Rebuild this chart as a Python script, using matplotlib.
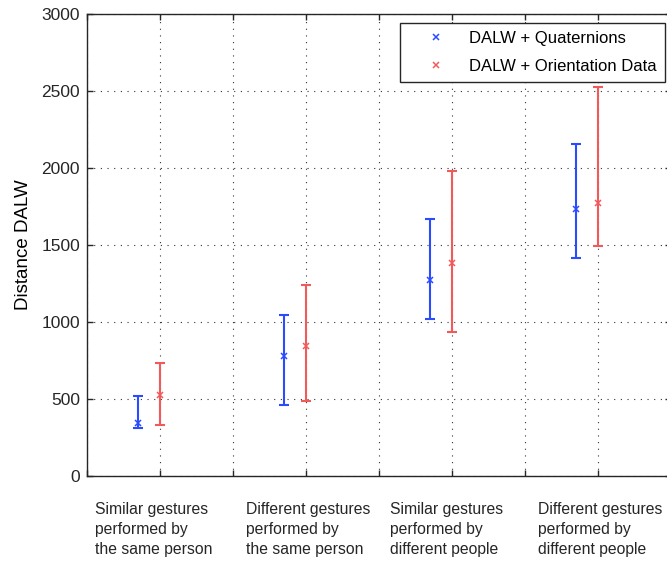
import matplotlib
matplotlib.use('Agg')
import matplotlib.pyplot as plt
import numpy as np

plt.rcParams['font.family'] = ['Liberation Sans', 'DejaVu Sans']

# category labels under the axis
categories = ['Similar gestures\nperformed by\nthe same person',
              'Different gestures\nperformed by\nthe same person',
              'Similar gestures\nperformed by\ndifferent people',
              'Different gestures\nperformed by\ndifferent people']

# DALW + Quaternions (mean, lower end, upper end)
quat_mean = [345, 779, 1273, 1736]
quat_low = [312, 461, 1019, 1416]
quat_high = [521, 1047, 1667, 2158]

# DALW + Orientation Data
orient_mean = [524, 846, 1381, 1775]
orient_low = [331, 489, 933, 1494]
orient_high = [732, 1242, 1982, 2524]

blue = '#2b4bff'
red = '#f05a5a'

fig = plt.figure(figsize=(6.67, 5.63), dpi=100)
ax = fig.add_axes([87 / 667, 87 / 563, 584 / 667, 462 / 563])

x_quat = np.arange(4) * 2 + 0.7
x_orient = np.arange(4) * 2 + 1.0

def draw(x, mean, low, high, color, label):
    mean = np.array(mean)
    err = [mean - np.array(low), np.array(high) - mean]
    ax.errorbar(x, mean, yerr=err, fmt='none', ecolor=color, elinewidth=1.5,
                capsize=3.8, capthick=1.5)
    ax.plot(x, mean, 'x', color=color, markersize=5, mew=1.1, label=label)

draw(x_quat, quat_mean, quat_low, quat_high, blue, 'DALW + Quaternions')
draw(x_orient, orient_mean, orient_low, orient_high, red, 'DALW + Orientation Data')

ax.set_xlim(0, 8)
ax.set_ylim(0, 3000)
ax.set_xticks(np.arange(0, 9))
ax.set_xticklabels([])
ax.set_yticks(np.arange(0, 3001, 500))
ax.tick_params(direction='in', length=4, top=True, right=True, labelsize=12.5,
               colors='#262626', width=1, pad=5)
ax.grid(True, linestyle=(0, (1, 5)), color='#333333', linewidth=0.8)
for s in ax.spines.values():
    s.set_color('#262626')
    s.set_linewidth(1)

ax.set_ylabel('Distance DALW', fontsize=13.5, labelpad=7)

label_x = [0.11, 2.18, 4.15, 6.18]
for xpos, lab in zip(label_x, categories):
    ax.text(xpos, -0.057, lab, transform=ax.get_xaxis_transform(),
            ha='left', va='top', fontsize=11.3, color='#262626', linespacing=1.4)

leg = ax.legend(loc='upper right', bbox_to_anchor=(665 / 667, 1 - 23 / 563),
                bbox_transform=fig.transFigure, borderaxespad=0, fontsize=12,
                fancybox=False, framealpha=1, edgecolor='#262626', borderpad=0.5,
                handlelength=3.3, handletextpad=0.35, labelspacing=0.75)
leg.get_frame().set_linewidth(1)

fig.savefig('out.png', dpi=100)
